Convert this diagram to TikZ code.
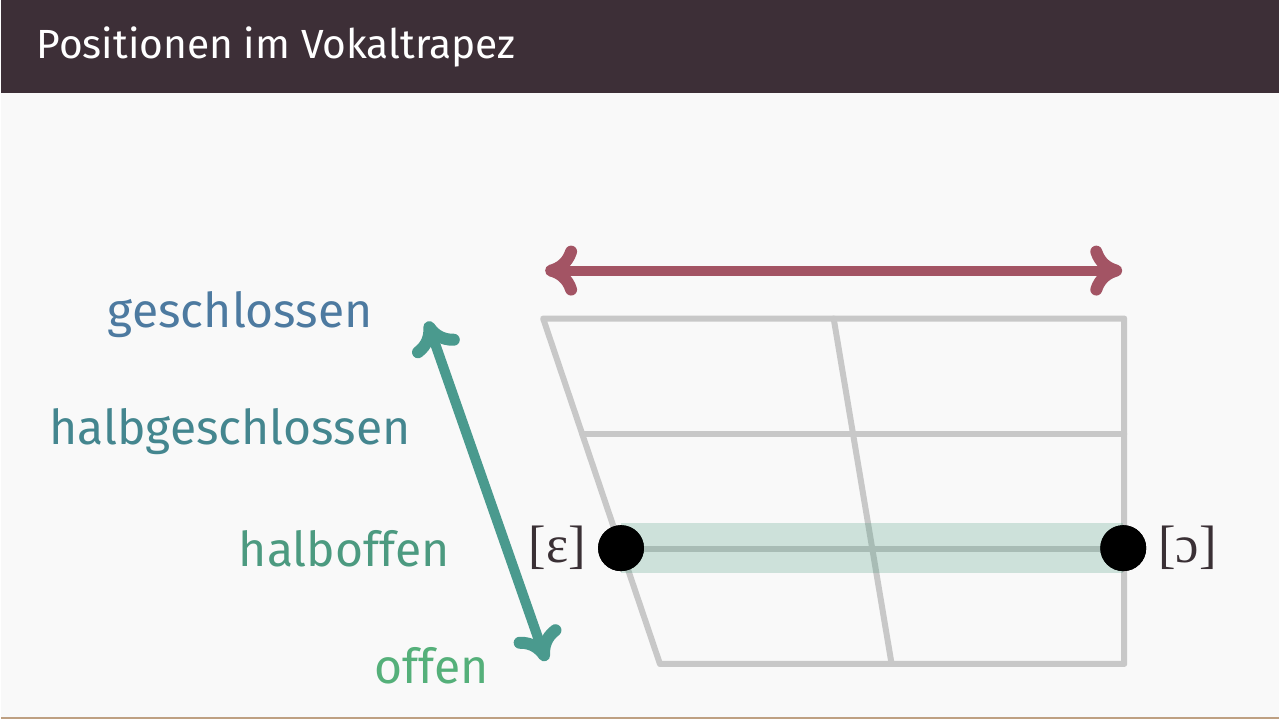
\documentclass[tikz,border=0pt]{standalone}
\usepackage{fontspec}
\setmainfont{Fira Sans}
\newfontfamily\ipafont{Liberation Serif}
\usepackage{xcolor}
\usetikzlibrary{arrows.meta,positioning,calc}
\definecolor{headbar}{HTML}{3D2F37}
\definecolor{slidebg}{HTML}{F9F9F9}
\definecolor{gridgray}{HTML}{C8C8C8}
\definecolor{frontback}{HTML}{A35464}
\definecolor{openclose}{HTML}{4A9A8E}
\definecolor{bandgreen}{HTML}{4C9A80}
\definecolor{colgeschl}{HTML}{4D7AA0}
\definecolor{colhalbg}{HTML}{44868F}
\definecolor{colhalbo}{HTML}{4C9A80}
\definecolor{coloffen}{HTML}{55B07A}
\definecolor{ipatext}{HTML}{3A3035}
\newcommand{\labelfont}{\fontsize{13.7}{16}\selectfont}

\begin{document}
\begin{tikzpicture}[x=0.1mm,y=-0.1mm,
    gridline/.style={draw=gridgray,line width=0.6mm,line join=round,line cap=round},
    tip/.tip={Computer Modern Rightarrow[length=3.2mm,width=5mm,line width=1.2mm]},
    bigarrow/.style={line width=1mm,tip-tip},
    height/.style={anchor=east,inner sep=0pt,font=\labelfont},
    vowel/.style={circle,fill=black,inner sep=0pt,minimum size=4.6mm},
    ipa/.style={font=\ipafont\fontsize{15}{17}\selectfont,text=ipatext,inner sep=1pt}]
  % slide
  \fill[slidebg] (0,0) rectangle (1280,720);
  \fill[headbar] (0,0) rectangle (1280,93);
  \draw[color={rgb,255:red,190;green,160;blue,130},line width=0.2mm] (0,719) -- (1280,719);
  \node[anchor=west,inner sep=0pt,text=white,font=\fontsize{11.6}{14}\selectfont] (title) at (35,47) {Positionen im Vokaltrapez};

  % trapezoid
  \coordinate (tl) at (543,319); \coordinate (tr) at (1125,319);
  \coordinate (bl) at (660,665); \coordinate (br) at (1125,665);
  \coordinate (tm) at (834,319); \coordinate (bm) at (892,665);
  \draw[gridline] (tl) -- (tr) -- (br) -- (bl) -- cycle;
  \draw[gridline] (tm) -- (bm);
  \draw[gridline] ($(tl)!1/3!(bl)$) -- ($(tr)!1/3!(br)$);
  \draw[gridline] ($(tl)!2/3!(bl)$) -- ($(tr)!2/3!(br)$);

  % vowels
  \node[vowel] (eps) at (621,549) {};
  \node[vowel] (opn) at (1124,549) {};
  \draw[bandgreen,opacity=0.25,line width=5mm] (eps.center) -- (opn.center);
  \node[vowel] at (eps) {};
  \node[vowel] at (opn) {};
  \node[ipa,left=2pt of eps] (epslbl) {[ɛ]};
  \node[ipa,right=2pt of opn] (opnlbl) {[ɔ]};

  % arrows
  \coordinate (front) at (545,271); \coordinate (back) at (1123,271);
  \draw[bigarrow,frontback] (front) -- (back);
  \coordinate (closed) at (427,322); \coordinate (open) at (546,662);
  \draw[bigarrow,openclose] (closed) -- (open);

  % heights
  \node[height,text=colgeschl] (geschl) at (373,315) {geschlossen};
  \node[height,text=colhalbg] (halbg) at (411,432) {halbgeschlossen};
  \node[height,text=colhalbo] (halbo) at (450,550) {halboffen};
  \node[height,text=coloffen] (offen) at (489,667) {offen};
\end{tikzpicture}
\end{document}
